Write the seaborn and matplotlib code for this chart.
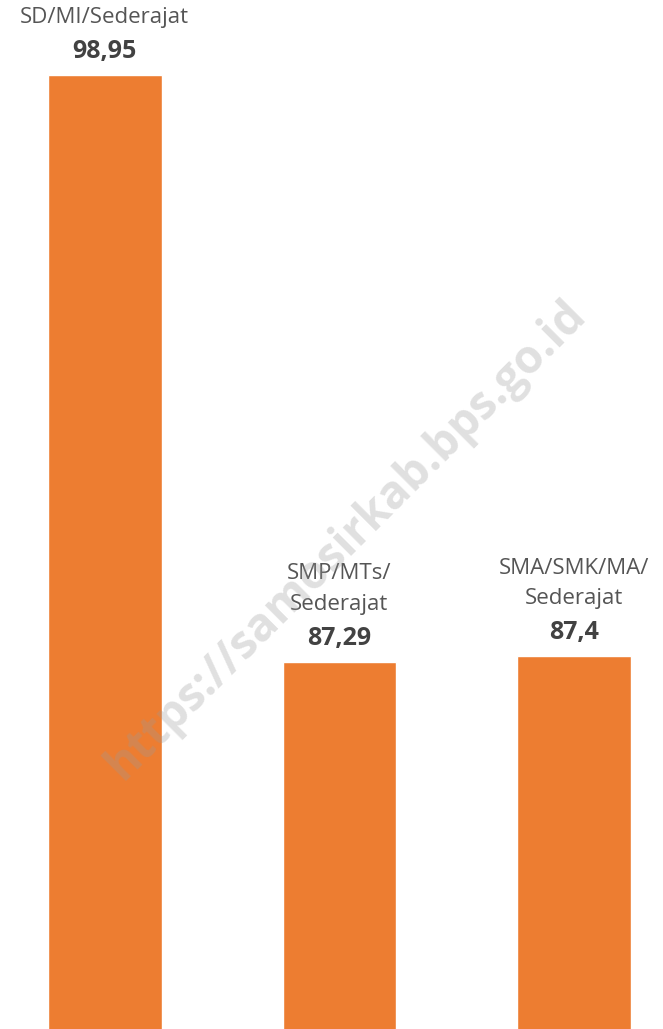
import matplotlib
matplotlib.use("Agg")
import matplotlib.pyplot as plt
import seaborn as sns
import pandas as pd

categories = ["SD/MI/Sederajat", "SMP/MTs/\nSederajat", "SMA/SMK/MA/\nSederajat"]
values = [98.95, 87.29, 87.4]
value_labels = ["98,95", "87,29", "87,4"]

sns.set_theme(style="white")
plt.rcParams["font.family"] = ["Open Sans", "DejaVu Sans"]

df = pd.DataFrame({"cat": categories, "val": values})

fig = plt.figure(figsize=(6.63, 10.29), dpi=100)
ax = fig.add_axes([0, 0, 1, 1])
sns.barplot(data=df, x="cat", y="val", color="#ED7D31", saturation=1, width=0.485, ax=ax)

ax.set_xlim(-0.445, 2.377)
ax.set_ylim(80.0, 100.44)
ax.axis("off")

for i, (v, lab, cat) in enumerate(zip(values, value_labels, categories)):
    ax.annotate(lab, (i, v), xytext=(0, 24), textcoords="offset pixels",
                ha="center", va="center", fontsize=18, fontweight="bold", color="#424242")
    ax.annotate(cat, (i, v), xytext=(0, 47), textcoords="offset pixels",
                ha="center", va="bottom", fontsize=16, color="#555555", linespacing=1.6)

fig.text(0.522, 0.475, "https://samosirkab.bps.go.id", rotation=45, ha="center", va="center",
         fontsize=33, fontweight="bold", color="#9a9a9a", alpha=0.3, rotation_mode="anchor")

fig.savefig("out.png", dpi=100)
